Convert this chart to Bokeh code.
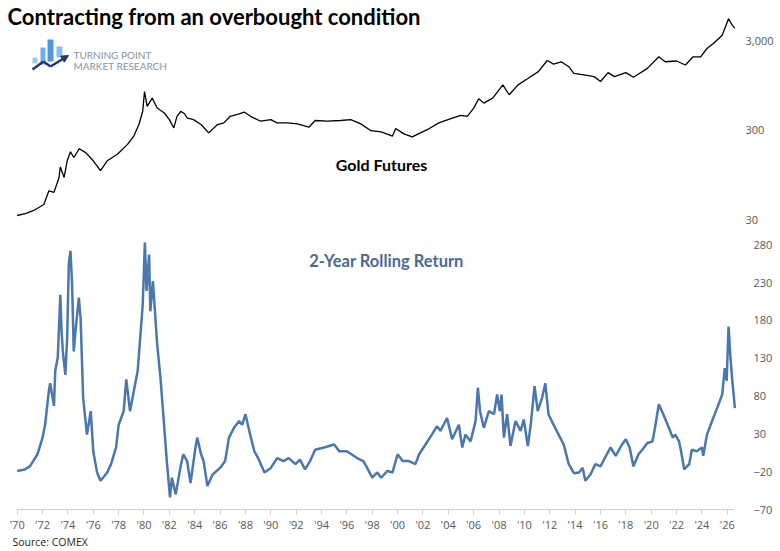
from bokeh.plotting import figure
from bokeh.models import Range1d, FixedTicker, Label, BoxAnnotation, Arrow, NormalHead, Title
from bokeh.layouts import column
from bokeh.embed import file_html
from bokeh.resources import INLINE

# ---------------- data ----------------
gold_years = [1970.0, 1970.65, 1971.3, 1972.1, 1972.5, 1972.9, 1973.3, 1973.4, 1973.7, 1973.94,
              1974.2, 1974.46, 1974.9, 1975.4, 1976.0, 1976.57, 1977.1, 1977.9, 1978.7, 1979.2,
              1979.6, 1979.9, 1980.04, 1980.25, 1980.65, 1981.04, 1981.6, 1982.0, 1982.35, 1982.6,
              1982.9, 1983.2, 1983.4, 1983.9, 1984.5, 1985.1, 1985.8, 1986.3, 1986.8, 1987.5,
              1987.9, 1988.4, 1989.2, 1990.0, 1990.5, 1991.3, 1992.1, 1993.0, 1993.5, 1994.45,
              1995.5, 1996.3, 1997.1, 1997.9, 1998.7, 1999.6, 1999.85, 2000.5, 2001.15, 2001.8,
              2002.5, 2003.25, 2004.2, 2005.0, 2005.5, 2006.0, 2006.4, 2006.8, 2007.5, 2008.0,
              2008.3, 2008.8, 2009.5, 2010.3, 2011.1, 2011.8, 2012.3, 2012.9, 2013.5, 2013.9,
              2014.7, 2015.5, 2016.0, 2016.6, 2017.1, 2018.0, 2018.6, 2019.7, 2020.6, 2021.1,
              2022.0, 2022.7, 2023.3, 2023.9, 2024.4, 2024.9, 2025.6, 2026.1, 2026.4, 2026.6]
gold_price = [34, 35.6, 38.7, 45, 64, 61.5, 90, 118, 90, 138,
              174, 150, 188, 170, 138, 107, 138, 163, 210, 260,
              349, 490, 813, 556, 687, 532, 469, 396, 320, 431,
              490, 460, 413, 396, 349, 282, 349, 364, 431, 460,
              481, 431, 380, 396, 364, 364, 355, 326, 387, 380,
              387, 396, 355, 298, 290, 260, 315, 275, 255, 282,
              315, 364, 407, 442, 431, 532, 676, 604, 687, 849,
              964, 748, 964, 1140, 1352, 1800, 1640, 1742, 1535, 1294,
              1242, 1190, 1050, 1318, 1190, 1318, 1170, 1470, 1977, 1742,
              1775, 1603, 1977, 1977, 2445, 2773, 3430, 5236, 4426, 4100]

ret_years = [1970.0, 1970.6, 1971.0, 1971.6, 1972.0, 1972.2, 1972.5, 1972.6, 1972.9, 1973.0,
             1973.2, 1973.4, 1973.5, 1973.6, 1973.8, 1973.94, 1974.07, 1974.2, 1974.33, 1974.46,
             1974.6, 1974.86, 1975.0, 1975.2, 1975.5, 1975.8, 1976.0, 1976.3, 1976.57, 1977.1,
             1977.4, 1977.8, 1978.0, 1978.4, 1978.6, 1978.9, 1979.2, 1979.5, 1979.7, 1979.9,
             1980.07, 1980.2, 1980.4, 1980.5, 1980.7, 1980.9, 1981.04, 1981.3, 1981.6, 1981.8,
             1982.05, 1982.2, 1982.5, 1982.9, 1983.1, 1983.4, 1983.67, 1984.06, 1984.2, 1984.5,
             1984.7, 1985.0, 1985.4, 1986.0, 1986.4, 1986.7, 1987.1, 1987.5, 1987.74, 1988.0,
             1988.3, 1988.7, 1989.0, 1989.5, 1990.0, 1990.5, 1991.0, 1991.4, 1991.95, 1992.3,
             1992.7, 1993.1, 1993.5, 1994.2, 1995.0, 1995.4, 1996.0, 1996.8, 1997.3, 1997.6,
             1998.0, 1998.4, 1998.7, 1999.2, 1999.6, 2000.0, 2000.4, 2000.9, 2001.4, 2001.7,
             2002.2, 2002.7, 2003.1, 2003.38, 2003.9, 2004.3, 2004.83, 2005.1, 2005.35, 2005.75,
             2006.15, 2006.33, 2006.5, 2006.8, 2007.2, 2007.6, 2007.85, 2008.06, 2008.2, 2008.38,
             2008.64, 2008.9, 2009.3, 2009.7, 2009.95, 2010.27, 2010.5, 2010.8, 2011.05, 2011.4,
             2011.65, 2011.9, 2012.3, 2012.7, 2013.1, 2013.5, 2013.9, 2014.3, 2014.6, 2014.8,
             2015.2, 2015.6, 2016.0, 2016.5, 2016.8, 2017.2, 2017.7, 2018.0, 2018.3, 2018.6,
             2019.0, 2019.3, 2019.7, 2020.1, 2020.3, 2020.6, 2020.9, 2021.3, 2021.7, 2021.9,
             2022.2, 2022.4, 2022.6, 2023.0, 2023.2, 2023.6, 2024.0, 2024.1, 2024.4, 2024.8,
             2025.2, 2025.6, 2025.8, 2025.95, 2026.1, 2026.25, 2026.4, 2026.6]
ret_values = [-19, -17, -13, 3, 25, 42, 87, 97, 67, 113,
              131, 214, 166, 139, 108, 157, 254, 272, 227, 139,
              166, 210, 183, 78, 29, 60, 7, -21, -32, -21,
              -10, 12, 42, 60, 102, 60, 87, 113, 157, 201,
              283, 219, 267, 192, 232, 183, 148, 104, 38, -6,
              -54, -28, -50, -12, 3, -6, -35, 12, 25, 3,
              -6, -39, -24, -15, -6, 25, 38, 47, 42, 56,
              34, 7, -2, -21, -15, -2, -6, -2, -10, -4,
              -17, -6, 9, 12, 16, 7, 7, -2, -6, -15,
              -28, -21, -28, -19, -21, 3, -6, -6, -10, 3,
              16, 29, 40, 34, 51, 23, 42, 12, 29, 20,
              47, 91, 60, 38, 60, 56, 82, 60, 82, 25,
              56, 14, 47, 34, 49, 14, 42, 93, 60, 78,
              97, 56, 42, 29, 16, -10, -22, -21, -15, -32,
              -24, -10, -13, 3, 12, 1, 16, 23, 12, -13,
              3, 9, 18, 20, 38, 69, 58, 42, 25, 29,
              20, 3, -17, -10, 9, 7, 12, 1, 29, 47,
              64, 82, 117, 100, 172, 131, 100, 64]

x_tick_years = list(range(1970, 2027, 2))
x_tick_labels = ["'" + str(y)[2:] for y in x_tick_years]
gold_ticks = [30, 300, 3000]
gold_tick_labels = ["30", "300", "3,000"]
ret_ticks = [-70, -20, 30, 80, 130, 180, 230, 280]

# ---------------- styling ----------------
TICK_FONT = "Open Sans"
TICK_COLOR = "#595959"
BLUE = "#4a77ae"

x_range = Range1d(1968.683, 2026.885)

# ---------------- top panel: gold futures (log) ----------------
p1 = figure(frame_width=738, frame_height=234, x_range=x_range,
            y_range=Range1d(20.9, 8360), y_axis_type="log",
            x_axis_location=None, y_axis_location="right",
            toolbar_location=None, output_backend="svg",
            min_border_left=0, min_border_right=0, min_border_top=0, min_border_bottom=0)
p1.grid.visible = False
p1.outline_line_color = None
ya = p1.yaxis[0]
ya.ticker = FixedTicker(ticks=gold_ticks)
ya.major_label_overrides = dict(zip(gold_ticks, gold_tick_labels))
ya.axis_line_color = None
ya.major_tick_line_color = None
ya.minor_tick_line_color = None
ya.major_tick_out = 0
ya.major_tick_in = 0
ya.minor_tick_out = 0
ya.major_label_standoff = 7
ya.major_label_text_font = TICK_FONT
ya.major_label_text_font_size = "11px"
ya.major_label_text_color = TICK_COLOR

p1.line(gold_years, gold_price, line_color="black", line_width=1.3)

p1.add_layout(Label(x=7, y=218, x_units="screen", y_units="screen",
                    text="Contracting from an overbought condition",
                    text_font="Lato", text_font_style="bold", text_font_size="22px",
                    text_color="black", text_baseline="middle"))
p1.add_layout(Label(x=381, y=70, x_units="screen", y_units="screen",
                    text="Gold Futures", text_font="Lato", text_font_style="bold",
                    text_font_size="16px", text_color="black",
                    text_align="center", text_baseline="middle"))

# logo (decoration)
for l, r, b, t, c in [(32, 37, 171, 177, "#9ccbf2"), (40, 45, 170, 187, "#6eaeea"),
                      (47, 53, 173, 195, "#4d97e0"), (56, 62, 177, 188, "#86bdef")]:
    p1.add_layout(BoxAnnotation(left=l, right=r, bottom=b, top=t,
                                left_units="screen", right_units="screen",
                                bottom_units="screen", top_units="screen",
                                fill_color=c, fill_alpha=1, line_color=None))
NAVY = "#27346b"
for (xs, ys, xe, ye) in [(32, 165, 43, 173), (43, 173, 50, 168)]:
    p1.add_layout(Arrow(x_start=xs, y_start=ys, x_end=xe, y_end=ye,
                        start_units="screen", end_units="screen", end=None,
                        line_color=NAVY, line_width=2.5))
p1.add_layout(Arrow(x_start=50, y_start=168, x_end=68, y_end=179,
                    start_units="screen", end_units="screen",
                    end=NormalHead(size=7, fill_color=NAVY, line_color=NAVY),
                    line_color=NAVY, line_width=2.5))
p1.add_layout(Label(x=73, y=179.5, x_units="screen", y_units="screen",
                    text="TURNING POINT", text_font="Lato", text_font_size="10px",
                    text_color="#8a93a0", text_baseline="middle"))
p1.add_layout(Label(x=73, y=169, x_units="screen", y_units="screen",
                    text="MARKET RESEARCH", text_font="Lato", text_font_size="10px",
                    text_color="#8a93a0", text_baseline="middle"))

# ---------------- bottom panel: 2-year rolling return ----------------
p2 = figure(frame_width=738, frame_height=275, x_range=x_range,
            y_range=Range1d(-70, 293.6), y_axis_location="right",
            toolbar_location=None, output_backend="svg",
            min_border_left=0, min_border_right=0, min_border_top=0, min_border_bottom=0)
p2.grid.visible = False
p2.outline_line_color = None
ry = p2.yaxis[0]
ry.ticker = FixedTicker(ticks=ret_ticks)
ry.axis_line_color = None
ry.major_tick_line_color = None
ry.minor_tick_line_color = None
ry.major_tick_out = 0
ry.major_tick_in = 0
ry.minor_tick_out = 0
ry.major_label_standoff = 15
ry.major_label_text_font = TICK_FONT
ry.major_label_text_font_size = "11px"
ry.major_label_text_color = TICK_COLOR

xa = p2.xaxis[0]
xa.ticker = FixedTicker(ticks=x_tick_years)
xa.major_label_overrides = dict(zip(x_tick_years, x_tick_labels))
xa.bounds = (1970, 2026.5)
xa.axis_line_color = "#d0d0d0"
xa.major_tick_line_color = "#d0d0d0"
xa.major_tick_out = 5
xa.major_tick_in = 0
xa.minor_tick_line_color = None
xa.minor_tick_out = 0
xa.major_label_standoff = 2
xa.major_label_text_font = TICK_FONT
xa.major_label_text_font_size = "11px"
xa.major_label_text_color = TICK_COLOR

p2.line(ret_years, ret_values, line_color=BLUE, line_width=2.5)

p2.add_layout(Label(x=386, y=249, x_units="screen", y_units="screen",
                    text="2-Year Rolling Return", text_font="Lato", text_font_style="bold",
                    text_font_size="16.5px", text_color="#4a6a8f",
                    text_align="center", text_baseline="middle"))
p2.add_layout(Title(text="Source: COMEX", align="left", offset=12, standoff=0,
                    vertical_align="top",
                    text_font="Open Sans", text_font_size="10.5px",
                    text_font_style="normal", text_color="#262626"), "below")

layout = column(p1, p2, spacing=0)
open("out.html", "w").write(file_html(layout, INLINE))
